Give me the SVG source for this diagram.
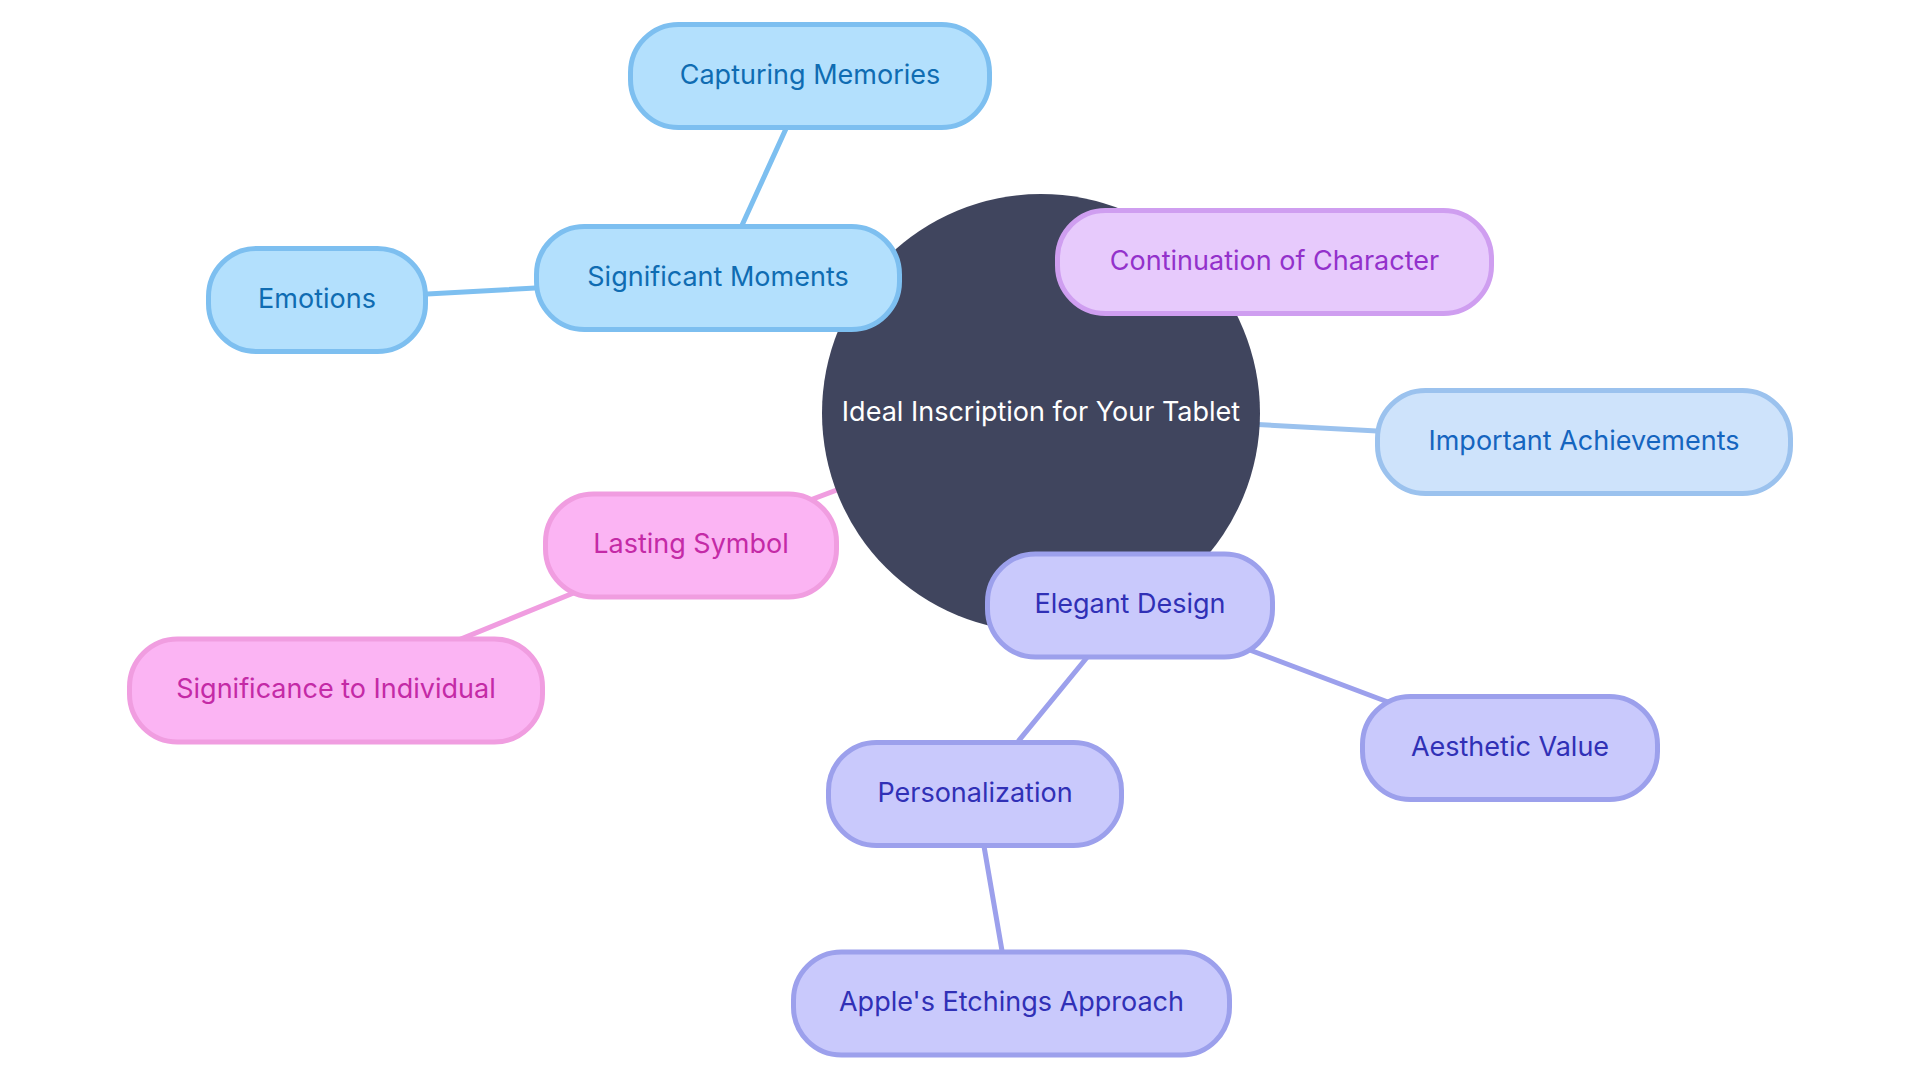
<svg xmlns="http://www.w3.org/2000/svg" width="1920" height="1080" viewBox="0 0 1920 1080">
<style>
text{font-family:Inter,"Open Sans","Liberation Sans",sans-serif;font-size:27px;text-anchor:middle;dominant-baseline:central}
.edge{stroke-width:5;fill:none;stroke-linecap:round}
.n rect{stroke-width:5}
.blue rect{fill:#b3e0fd;stroke:#7dbff0}
.blue text{fill:#0f6cb2}
.purple rect{fill:#e7cafc;stroke:#cf9ef0}
.purple text{fill:#9331cb}
.lblue rect{fill:#cee3fb;stroke:#9bc2ee}
.lblue text{fill:#1565bf}
.pink rect{fill:#fbb4f3;stroke:#f09de0}
.pink text{fill:#c42aa6}
.violet rect{fill:#c9c9fc;stroke:#9ca0ec}
.violet text{fill:#3030b6}
</style>
<rect width="1920" height="1080" fill="#ffffff"/>
<g id="connectors">
<line class="edge" x1="1041" y1="413" x2="718" y2="278" stroke="#7dbff0"/>
<line class="edge" x1="718" y1="278" x2="810" y2="76" stroke="#7dbff0"/>
<line class="edge" x1="718" y1="278" x2="317" y2="300" stroke="#7dbff0"/>
<line class="edge" x1="1041" y1="413" x2="1274" y2="262" stroke="#cf9ef0"/>
<line class="edge" x1="1041" y1="413" x2="1584" y2="442" stroke="#9bc2ee"/>
<line class="edge" x1="1041" y1="413" x2="691" y2="545" stroke="#f09de0"/>
<line class="edge" x1="691" y1="545" x2="336" y2="690" stroke="#f09de0"/>
<line class="edge" x1="1041" y1="413" x2="1130" y2="605" stroke="#9ca0ec"/>
<line class="edge" x1="1130" y1="605" x2="1510" y2="748" stroke="#9ca0ec"/>
<line class="edge" x1="1130" y1="605" x2="975" y2="794" stroke="#9ca0ec"/>
<line class="edge" x1="975" y1="794" x2="1011" y2="1003" stroke="#9ca0ec"/>
</g>
<g id="root">
<circle cx="1041" cy="413" r="219" fill="#40455e"/>
<text x="1041" y="411" fill="#ffffff">Ideal Inscription for Your Tablet</text>
</g>
<g id="significant-moments" class="n blue">
<rect x="536.5" y="226.5" width="363" height="103" rx="48"/>
<text x="718" y="276">Significant Moments</text>
</g>
<g id="capturing-memories" class="n blue">
<rect x="630.5" y="24.5" width="359" height="103" rx="48"/>
<text x="810" y="74">Capturing Memories</text>
</g>
<g id="emotions" class="n blue">
<rect x="208.5" y="248.5" width="217" height="103" rx="48"/>
<text x="317" y="298">Emotions</text>
</g>
<g id="continuation-of-character" class="n purple">
<rect x="1057.5" y="210.5" width="434" height="103" rx="48"/>
<text x="1274.5" y="260">Continuation of Character</text>
</g>
<g id="important-achievements" class="n lblue">
<rect x="1377.5" y="390.5" width="413" height="103" rx="48"/>
<text x="1584" y="440">Important Achievements</text>
</g>
<g id="lasting-symbol" class="n pink">
<rect x="545.5" y="494" width="291" height="103" rx="48"/>
<text x="691" y="543.5">Lasting Symbol</text>
</g>
<g id="significance-to-individual" class="n pink">
<rect x="129.5" y="639" width="413" height="103" rx="48"/>
<text x="336" y="688.5">Significance to Individual</text>
</g>
<g id="elegant-design" class="n violet">
<rect x="987.5" y="554" width="285" height="103" rx="48"/>
<text x="1130" y="603.5">Elegant Design</text>
</g>
<g id="aesthetic-value" class="n violet">
<rect x="1362.5" y="696.5" width="295" height="103" rx="48"/>
<text x="1510" y="746">Aesthetic Value</text>
</g>
<g id="personalization" class="n violet">
<rect x="828.5" y="742.5" width="293" height="103" rx="48"/>
<text x="975" y="792">Personalization</text>
</g>
<g id="apples-etchings-approach" class="n violet">
<rect x="793.5" y="952" width="436" height="103" rx="48"/>
<text x="1011.5" y="1001.5">Apple's Etchings Approach</text>
</g>
</svg>
